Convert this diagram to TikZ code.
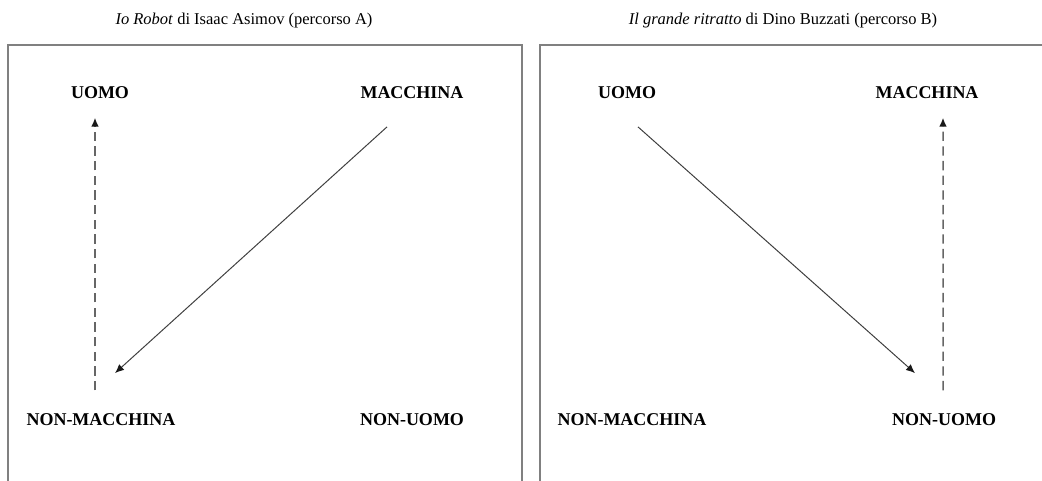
\documentclass[tikz,border=0pt]{standalone}
\usepackage{fontspec}
\setmainfont{Liberation Serif}
\usetikzlibrary{arrows.meta}

\begin{document}
\begin{tikzpicture}[x=0.6pt, y=-0.6pt, >={Latex[length=5.4pt,width=4.6pt,color=black!90]}]
\useasboundingbox (0,0) rectangle (1042,480);
\clip (0,0) rectangle (1042,480);

   % cornici
   \begin{scope}[line width=0.8pt, draw=black!50]
    \draw (8,500) -- (8,45) -- (522,45) -- (522,500);
    \draw (540,500) -- (540,45) -- (1060,45) -- (1060,500);
   \end{scope}

   \begin{scope}[every node/.style={font=\fontsize{9.9}{12}\selectfont}]
    \node (tA) at (244,21) {\textit{Io Robot} di Isaac Asimov (percorso A)};
    \node (tB) at (783,21) {\textit{Il grande ritratto} di Dino Buzzati (percorso B)};
   \end{scope}

   \begin{scope}[every node/.style={inner sep=0pt,font=\bfseries\fontsize{10.8}{13}\selectfont}]
    \node (uA) at (100,93) {UOMO};
    \node (mA) at (412,93) {MACCHINA};
    \node (nmA) at (101,420) {NON-MACCHINA};
    \node (nuA) at (412,420) {NON-UOMO};
    \node (uB) at (627,93) {UOMO};
    \node (mB) at (927,93) {MACCHINA};
    \node (nmB) at (632,420) {NON-MACCHINA};
    \node (nuB) at (944,420) {NON-UOMO};
   \end{scope}

\draw ([xshift=-3.6pt,yshift=14pt]nmA.north) edge[->, draw=black!60, line width=0.9pt, dash pattern=on 5.6pt off 3.2pt] ([xshift=-3pt,yshift=-11pt]uA.south);
\draw ([xshift=-15pt,yshift=-16.5pt]mA.south) edge[->, draw=black!75, line width=0.6pt] ([xshift=8.4pt,yshift=24.3pt]nmA.north);
\draw ([xshift=6.6pt,yshift=-16.5pt]uB.south) edge[->, draw=black!75, line width=0.6pt] ([xshift=-17.4pt,yshift=24.3pt]nuB.north);
\draw ([xshift=-0.6pt,yshift=14pt]nuB.north) edge[->, draw=black!60, line width=0.9pt, dash pattern=on 5.6pt off 3.2pt] ([xshift=9.6pt,yshift=-11pt]mB.south);
\end{tikzpicture}
\end{document}
